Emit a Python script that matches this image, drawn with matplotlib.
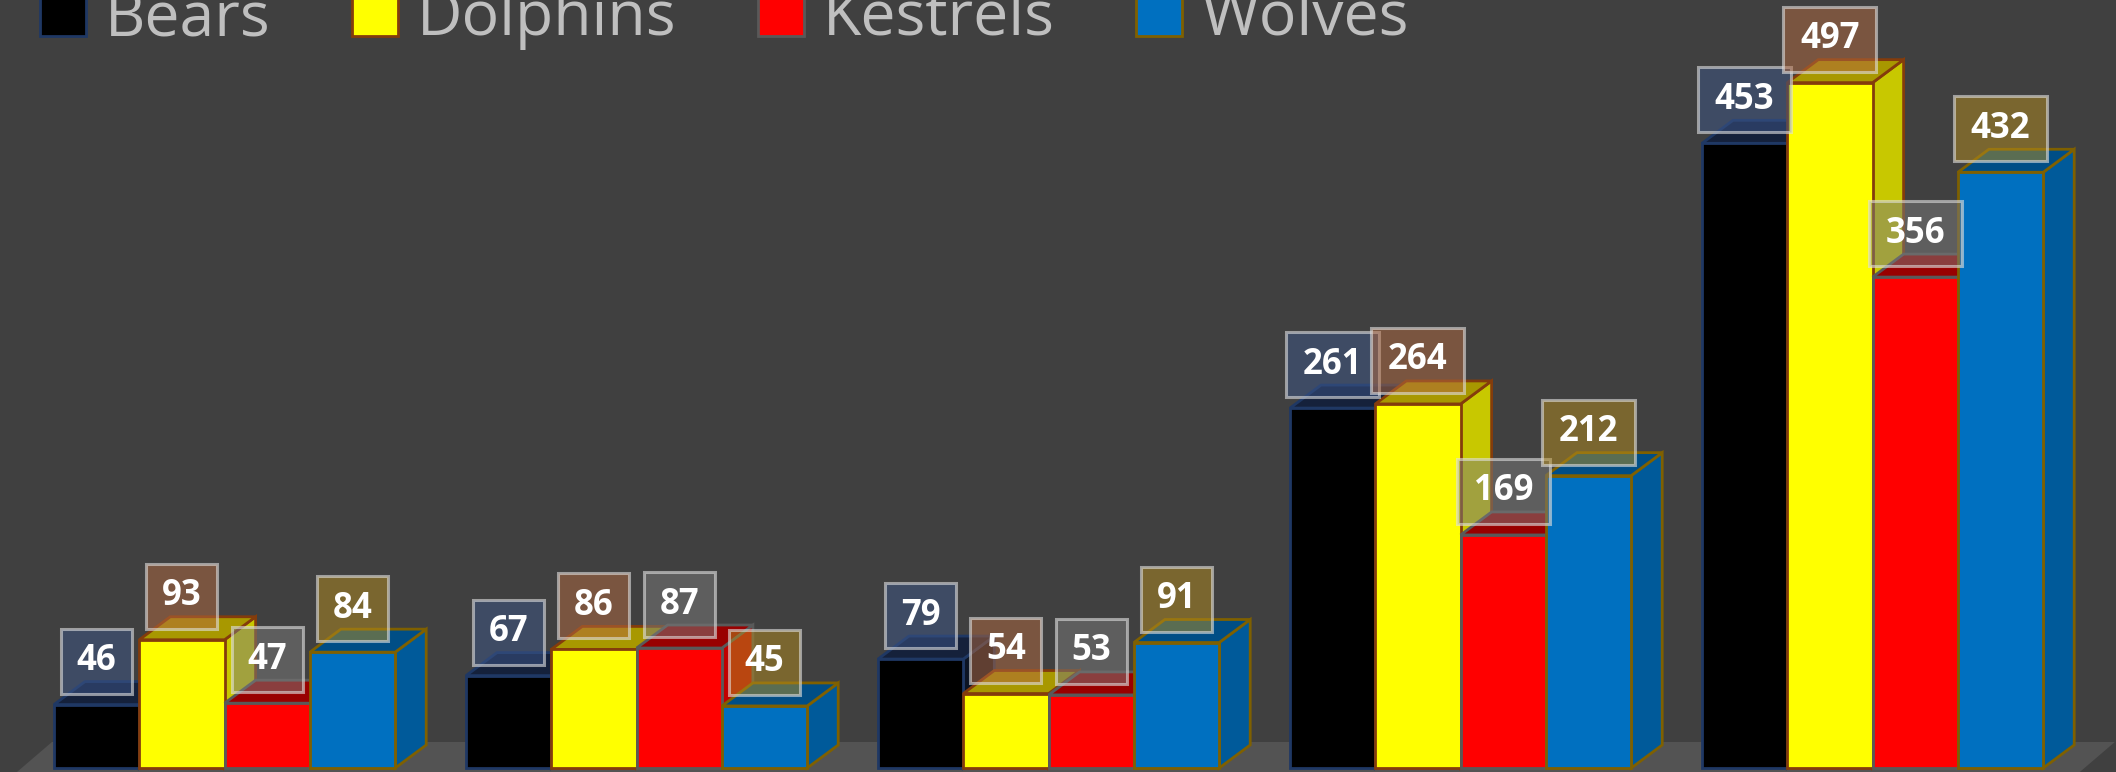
import matplotlib.pyplot as plt
import numpy as np
from matplotlib.patches import Polygon, Rectangle, Patch

# data
series = ['Bears', 'Dolphins', 'Kestrels', 'Wolves']
bears = [46, 67, 79, 261, 453]
dolphins = [93, 86, 54, 264, 497]
kestrels = [47, 87, 53, 169, 356]
wolves = [84, 45, 91, 212, 432]
values = [bears, dolphins, kestrels, wolves]

# colours
front_c = ['#000000', '#ffff00', '#ff0000', '#0070c0']
side_c = ['#0c1424', '#c8c800', '#c00000', '#005a9a']
top_c = ['#15213b', '#a89800', '#990000', '#004e86']
edge_c = ['#1f3864', '#843c0c', '#595959', '#7f6000']
label_c = ['#3e5688', '#b46a40', '#7c7c7c', '#b48c20']
bg = '#404040'

W, H = 2116, 772
fig = plt.figure(figsize=(W / 100, H / 100), dpi=100, facecolor=bg)
ax = fig.add_axes([0, 0, 1, 1])
ax.set_facecolor(bg)
ax.axis('off')

# pixel -> data scale (group pitch 412px, 1.379px per unit, baseline 768px)
xlim = (-224.6 / 412, (W - 224.6) / 412)
ylim = (-4 / 1.379, 768 / 1.379)
ax.set_xlim(*xlim)
ax.set_ylim(*ylim)
px = (xlim[1] - xlim[0]) / W
py = (ylim[1] - ylim[0]) / H

bw = 85.3 * px
dx, dy = 31 * px, 23 * py

# floor
fx0, fx1 = -0.504, 4.503
ax.add_patch(Polygon([(fx0, ylim[0]), (fx1, ylim[0]), (fx1 + 35 * px, ylim[0] + 30 * py),
                      (fx0 + 35 * px, ylim[0] + 30 * py)], closed=True,
                     facecolor='#535353', edgecolor='none', zorder=1))

x = np.arange(len(bears))
for j, vals in enumerate(values):
    left = x - 2 * bw + j * bw
    bars = ax.bar(left, vals, bw, align='edge', color=front_c[j], edgecolor=edge_c[j],
                  linewidth=2.0)
    for k, b in enumerate(bars):
        b.set_zorder(10 + 3 * j + 2)
        x0, x1, h = left[k], left[k] + bw, vals[k]
        ax.add_patch(Polygon([(x1, 0), (x1 + dx, dy), (x1 + dx, h + dy), (x1, h)], closed=True,
                             facecolor=side_c[j], edgecolor=edge_c[j], linewidth=2.0,
                             zorder=10 + 3 * j))
        ax.add_patch(Polygon([(x0, h), (x1, h), (x1 + dx, h + dy), (x0 + dx, h + dy)], closed=True,
                             facecolor=top_c[j], edgecolor=edge_c[j], linewidth=2.0,
                             zorder=10 + 3 * j))
        # data label box
        txt = str(h)
        bwid = (22 * len(txt) + 27) * px
        bhgt = 65 * py
        cx = x0 + bw / 2
        by = h + 11 * py
        r, g, bl = [int(label_c[j][i:i + 2], 16) / 255 for i in (1, 3, 5)]
        ax.add_patch(Rectangle((cx - bwid / 2, by), bwid, bhgt, facecolor=(r, g, bl, 0.5),
                               edgecolor=(0.88, 0.88, 0.88, 0.6), linewidth=2.2, zorder=100))
        ax.text(cx, by + bhgt / 2, txt, ha='center', va='center', color='white',
                fontsize=25, fontweight='bold', family=['Open Sans', 'DejaVu Sans'], zorder=101)

handles = [Patch(facecolor=front_c[j], edgecolor=edge_c[j], linewidth=2.0) for j in range(4)]
fig.legend(handles, series, loc='lower left', bbox_to_anchor=(40 / W, 1 - 50 / H), ncol=4,
           frameon=False, fontsize=45, labelcolor='#bfbfbf', handlelength=0.74,
           handleheight=0.74, handletextpad=0.3, columnspacing=1.3, borderpad=0,
           borderaxespad=0, prop={'family': ['Open Sans', 'DejaVu Sans'], 'size': 45})

fig.savefig('out.png', dpi=100, facecolor=bg)
